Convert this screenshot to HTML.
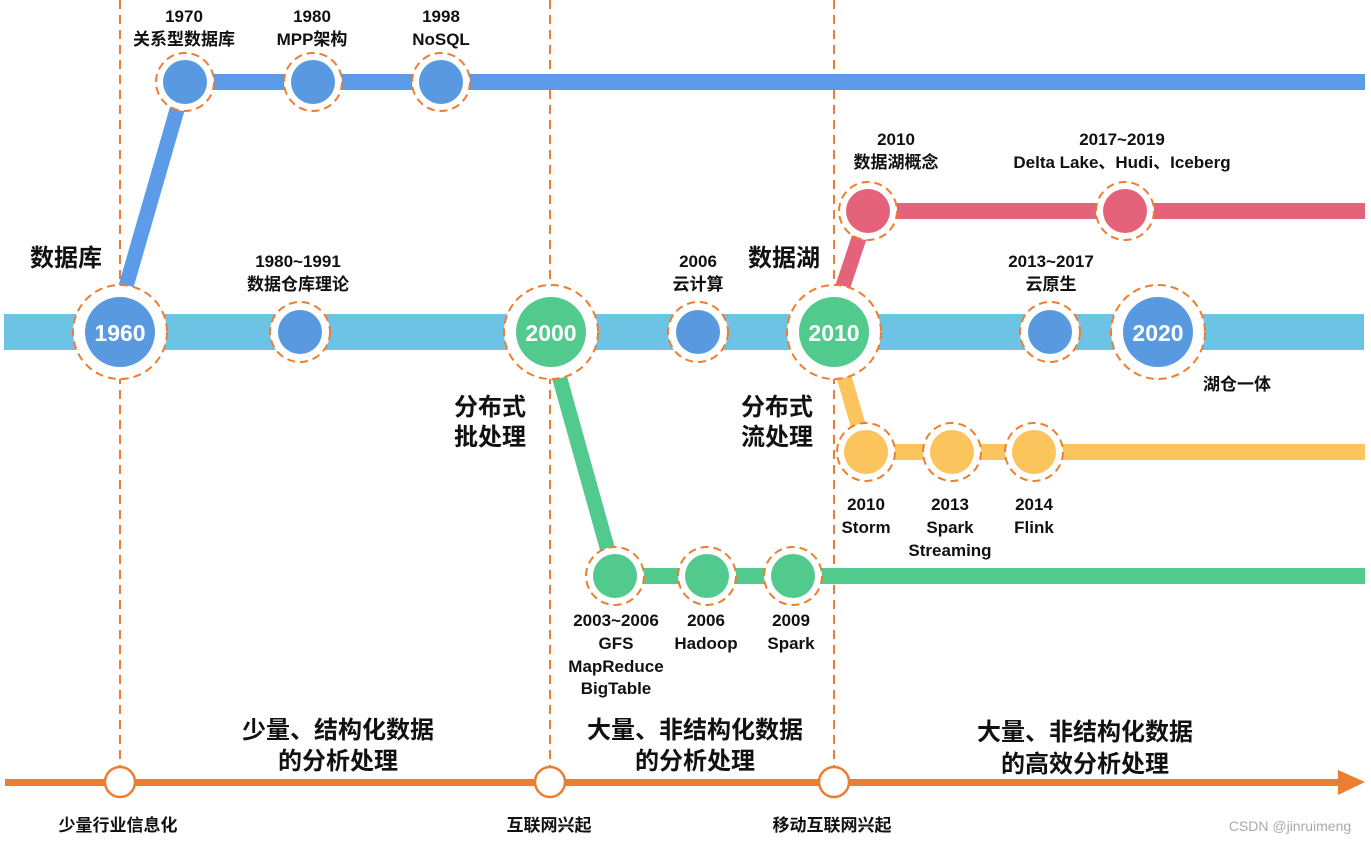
<!DOCTYPE html>
<html><head><meta charset="utf-8"><style>
html,body{margin:0;padding:0;background:#fff}
svg{display:block}
text{font-family:"Liberation Sans","Noto Sans CJK SC",sans-serif;font-weight:bold;fill:#111;text-anchor:middle}
.s{font-size:17px}
.h{font-size:24px}
.w{fill:#fff;font-size:23px}
</style></head><body>
<svg width="1371" height="843" viewBox="0 0 1371 843" xmlns="http://www.w3.org/2000/svg">
<g stroke="#ed7d31" stroke-width="2" stroke-dasharray="9,6">
<line x1="120" y1="0" x2="120" y2="770"/>
<line x1="550" y1="0" x2="550" y2="770"/>
<line x1="834" y1="0" x2="834" y2="770"/>
</g>
<!-- lines -->
<rect x="4" y="314" width="1360" height="36" fill="#6cc3e3"/>
<line x1="125" y1="290" x2="185" y2="82" stroke="#5b9be8" stroke-width="15"/>
<rect x="185" y="74" width="1180" height="16" fill="#5b9be8"/>
<line x1="840" y1="295" x2="868" y2="211" stroke="#e5637a" stroke-width="15"/>
<rect x="868" y="203" width="497" height="16" fill="#e5637a"/>
<line x1="842" y1="370" x2="866" y2="452" stroke="#fcc45c" stroke-width="15"/>
<rect x="866" y="444" width="499" height="16" fill="#fcc45c"/>
<line x1="558" y1="372" x2="615" y2="576" stroke="#52c98d" stroke-width="15"/>
<rect x="615" y="568" width="750" height="16" fill="#52c98d"/>
<!-- nodes -->
<g stroke="#ed7d31" stroke-width="2" stroke-dasharray="8,5" fill="#fff">
<circle cx="185" cy="82" r="29"/><circle cx="313" cy="82" r="29"/><circle cx="441" cy="82" r="29"/>
<circle cx="120" cy="332" r="47"/><circle cx="300" cy="332" r="30"/><circle cx="551" cy="332" r="47"/>
<circle cx="698" cy="332" r="30"/><circle cx="834" cy="332" r="47"/><circle cx="1050" cy="332" r="30"/><circle cx="1158" cy="332" r="47"/>
<circle cx="868" cy="211" r="29"/><circle cx="1125" cy="211" r="29"/>
<circle cx="866" cy="452" r="29"/><circle cx="952" cy="452" r="29"/><circle cx="1034" cy="452" r="29"/>
<circle cx="615" cy="576" r="29"/><circle cx="707" cy="576" r="29"/><circle cx="793" cy="576" r="29"/>
</g>
<g fill="#5899e0">
<circle cx="185" cy="82" r="22"/><circle cx="313" cy="82" r="22"/><circle cx="441" cy="82" r="22"/>
<circle cx="120" cy="332" r="35"/><circle cx="300" cy="332" r="22"/><circle cx="698" cy="332" r="22"/><circle cx="1050" cy="332" r="22"/><circle cx="1158" cy="332" r="35"/>
</g>
<g fill="#52c98d"><circle cx="551" cy="332" r="35"/><circle cx="834" cy="332" r="35"/>
<circle cx="615" cy="576" r="22"/><circle cx="707" cy="576" r="22"/><circle cx="793" cy="576" r="22"/></g>
<g fill="#e5637a"><circle cx="868" cy="211" r="22"/><circle cx="1125" cy="211" r="22"/></g>
<g fill="#fcc45c"><circle cx="866" cy="452" r="22"/><circle cx="952" cy="452" r="22"/><circle cx="1034" cy="452" r="22"/></g>
<text class="w" x="120" y="341">1960</text>
<text class="w" x="551" y="341">2000</text>
<text class="w" x="834" y="341">2010</text>
<text class="w" x="1158" y="341">2020</text>
<!-- axis -->
<rect x="5" y="779" width="1335" height="7" fill="#ed7d31"/>
<polygon points="1338,770 1365,782 1338,795" fill="#ed7d31"/>
<g fill="#fff" stroke="#ed7d31" stroke-width="2.5">
<circle cx="120" cy="782" r="15"/><circle cx="550" cy="782" r="15"/><circle cx="834" cy="782" r="15"/></g>
<!-- labels -->
<text class="s" x="184" y="22">1970</text><text class="s" x="184" y="45">关系型数据库</text>
<text class="s" x="312" y="22">1980</text><text class="s" x="312" y="45">MPP架构</text>
<text class="s" x="441" y="22">1998</text><text class="s" x="441" y="45">NoSQL</text>
<text class="h" x="66" y="266">数据库</text>
<text class="s" x="298" y="267">1980~1991</text><text class="s" x="298" y="290">数据仓库理论</text>
<text class="s" x="698" y="267">2006</text><text class="s" x="698" y="290">云计算</text>
<text class="h" x="784" y="266">数据湖</text>
<text class="s" x="896" y="145">2010</text><text class="s" x="896" y="168">数据湖概念</text>
<text class="s" x="1122" y="145">2017~2019</text><text class="s" x="1122" y="168">Delta Lake、Hudi、Iceberg</text>
<text class="s" x="1051" y="267">2013~2017</text><text class="s" x="1051" y="290">云原生</text>
<text class="s" x="1237" y="390">湖仓一体</text>
<text class="h" x="490" y="415">分布式</text><text class="h" x="490" y="445">批处理</text>
<text class="h" x="777" y="415">分布式</text><text class="h" x="777" y="445">流处理</text>
<text class="s" x="866" y="510">2010</text><text class="s" x="866" y="533">Storm</text>
<text class="s" x="950" y="510">2013</text><text class="s" x="950" y="533">Spark</text><text class="s" x="950" y="556">Streaming</text>
<text class="s" x="1034" y="510">2014</text><text class="s" x="1034" y="533">Flink</text>
<text class="s" x="616" y="626">2003~2006</text><text class="s" x="616" y="649">GFS</text><text class="s" x="616" y="672">MapReduce</text><text class="s" x="616" y="694">BigTable</text>
<text class="s" x="706" y="626">2006</text><text class="s" x="706" y="649">Hadoop</text>
<text class="s" x="791" y="626">2009</text><text class="s" x="791" y="649">Spark</text>
<text class="h" x="338" y="738">少量、结构化数据</text><text class="h" x="338" y="769">的分析处理</text>
<text class="h" x="695" y="738">大量、非结构化数据</text><text class="h" x="695" y="769">的分析处理</text>
<text class="h" x="1085" y="740">大量、非结构化数据</text><text class="h" x="1085" y="772">的高效分析处理</text>
<text class="s" x="118" y="831">少量行业信息化</text>
<text class="s" x="549" y="831">互联网兴起</text>
<text class="s" x="832" y="831">移动互联网兴起</text>
<text x="1290" y="831" style="font-size:14px;font-weight:normal;fill:#aaa">CSDN @jinruimeng</text>
</svg>
</body></html>
